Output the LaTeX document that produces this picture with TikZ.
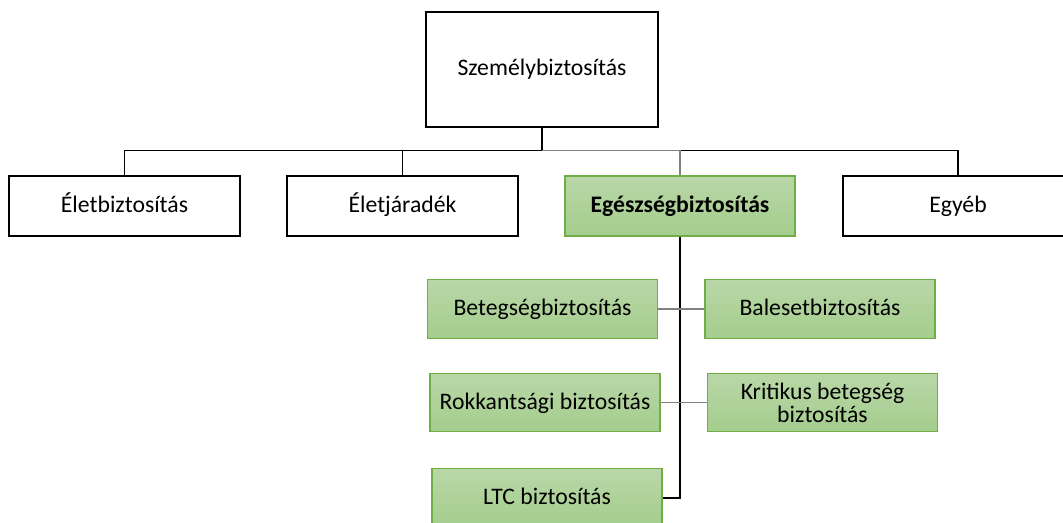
\documentclass[tikz,border=0pt]{standalone}
\usepackage{fontspec}
\setmainfont{Carlito}
\usetikzlibrary{positioning, calc}
\definecolor{leafgreen}{RGB}{112,173,71}
\definecolor{leaftop}{RGB}{185,215,168}
\definecolor{leafbot}{RGB}{164,205,140}
\tikzset{
    mainbox/.style={rectangle, draw=black, thick, fill=white, minimum width=4.64cm, minimum height=2.3cm, text centered},
    branch/.style={rectangle, draw=black, thick, fill=white, minimum width=4.62cm, minimum height=1.2cm, text centered, text height=2ex, text depth=0.4ex},
    greenbox/.style={rectangle, draw=leafgreen, thick, top color=leaftop, bottom color=leafbot, minimum width=4.6cm, minimum height=1.17cm, text centered, align=center, text height=2ex, text depth=0.4ex},
    link/.style={thick, black},
    greylink/.style={thick, black!50},
}

\begin{document}
\begin{tikzpicture}[x=0.02cm, y=-0.02cm, font=\fontsize{13.5}{15}\selectfont]
        \useasboundingbox (0,0) rectangle (1063,522);

        % Top level
        \node[mainbox] (person) at (542,69.5) {Személybiztosítás};

        % Second level
        \node[branch] (life) at (124.5,206) {Életbiztosítás};
        \node[branch] (annuity) at (402.5,206) {Életjáradék};
        \node[greenbox, minimum height=1.2cm, font=\fontsize{13.5}{15}\selectfont\bfseries] (health) at (680,206) {Egészségbiztosítás};
        \node[branch, minimum width=4.6cm] (other) at (958,206) {Egyéb};

        % Health branches
        \node[greenbox] (sick) at (542.5,309) {Betegségbiztosítás};
        \node[greenbox] (accident) at (820,309) {Balesetbiztosítás};
        \node[greenbox] (disab) at (545,402.5) {Rokkantsági biztosítás};
        \node[greenbox, text height=, text depth=] (critic) at (822.5,402.5) {Kritikus betegség\\[-2pt]biztosítás};
        \node[greenbox] (ltc) at (547,498) {LTC biztosítás};

        % Connectors
        \coordinate (bus) at (542,150.5);
        \draw[link] (person.south) -- (bus);
        \draw[link] (bus) -| (life.north);
        \draw[link] (bus) -| (annuity.north);
        \draw[link] (bus) -| (other.north);
        \draw[greylink] (bus) -| (health.north);
        \draw[link] (health.south) |- (ltc.east);
        \draw[greylink] (sick.east) -- (accident.west);
        \draw[greylink] (disab.east) -- (critic.west);
    \end{tikzpicture}
\end{document}
